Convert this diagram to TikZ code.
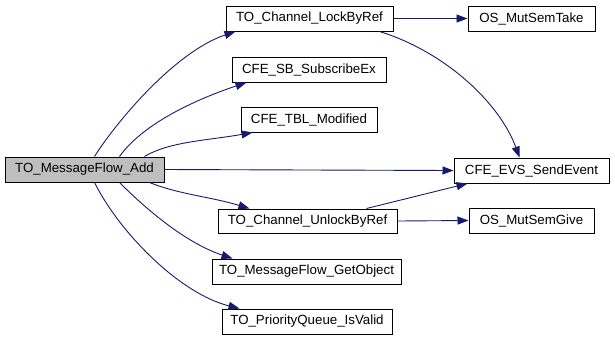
\documentclass[tikz,border=0pt]{standalone}
\usepackage{fontspec}
\setmainfont{Liberation Sans}
\usetikzlibrary{arrows.meta,calc}
\definecolor{edgeblue}{HTML}{191970}
\definecolor{rootgray}{HTML}{BFBFBF}
\begin{document}
\begin{tikzpicture}[x=1pt,y=-1pt,
  fn/.style={draw=black,fill=white,line width=1pt,inner sep=0pt,
    font=\fontsize{13.3}{16}\selectfont},
  root/.style={fn,fill=rootgray},
  lbl/.style={font=\fontsize{13.3}{16}\selectfont},
  call/.style={draw=edgeblue,line width=0.9pt,
    -{Triangle[length=11pt,width=8pt]},fill=none},
]
\useasboundingbox (0,0) rectangle (615,341);
% boxes placed by corner coordinates
\newcommand{\fnbox}[6][fn]{%
  \node[#1,minimum width=#4-#2,minimum height=#5-#3] (#6) at ({(#2+#4)/2},{(#3+#5)/2}) {};}
\fnbox[root]{5}{157}{164}{182}{add}
\fnbox{226}{6}{393}{31}{lock}
\fnbox{232}{57}{386}{82}{sub}
\fnbox{241}{107}{377}{132}{tbl}
\fnbox{218}{209}{397}{233}{unlock}
\fnbox{212}{259}{401}{284}{getobj}
\fnbox{222}{309}{392}{334}{pq}
\fnbox{468}{6}{595}{31}{take}
\fnbox{454}{158}{609}{183}{evs}
\fnbox{469}{208}{594}{233}{give}
% labels
\node[lbl] at (add) {TO\_MessageFlow\_Add};
\node[lbl] at (lock) {TO\_Channel\_LockByRef};
\node[lbl] at (sub) {CFE\_SB\_SubscribeEx};
\node[lbl] at (tbl) {CFE\_TBL\_Modified};
\node[lbl] at (unlock) {TO\_Channel\_UnlockByRef};
\node[lbl] at (getobj) {TO\_MessageFlow\_GetObject};
\node[lbl] at (pq) {TO\_PriorityQueue\_IsValid};
\node[lbl] at (take) {OS\_MutSemTake};
\node[lbl] at (evs) {CFE\_EVS\_SendEvent};
\node[lbl] at (give) {OS\_MutSemGive};
% calls
\draw[call] ($(add.north west)+(90,0)$) .. controls +(22,-35) and +(-60,20) .. ($(lock.south west)+(10,0)$);
\draw[call] ($(add.north west)+(115,0)$) .. controls +(25,-35) and +(-45,15) .. ($(sub.south west)+(15,0)$);
\draw[call] ($(add.north west)+(140,0)$) .. controls +(25,-15) and +(-45,8) .. ($(tbl.south west)+(12,0)$);
\draw[call] (add.east) -- (evs.west);
\draw[call] ($(add.south west)+(145,0)$) .. controls +(30,12) and +(-40,-12) .. ($(unlock.north west)+(32,0)$);
\draw[call] ($(add.south west)+(115,0)$) .. controls +(30,30) and +(-45,-15) .. ($(getobj.north west)+(21,0)$);
\draw[call] ($(add.south west)+(90,0)$) .. controls +(25,50) and +(-60,-15) .. ($(pq.north west)+(18,0)$);
\draw[call] (lock.east) -- (take.west);
\draw[call] ($(lock.south west)+(154,0)$) .. controls +(65,20) and +(-20,-55) .. ($(evs.north west)+(66,0)$);
\draw[call] ($(unlock.north west)+(149,0)$) -- ($(evs.south west)+(14,0)$);
\draw[call] (unlock.east) -- (give.west);
\end{tikzpicture}
\end{document}
